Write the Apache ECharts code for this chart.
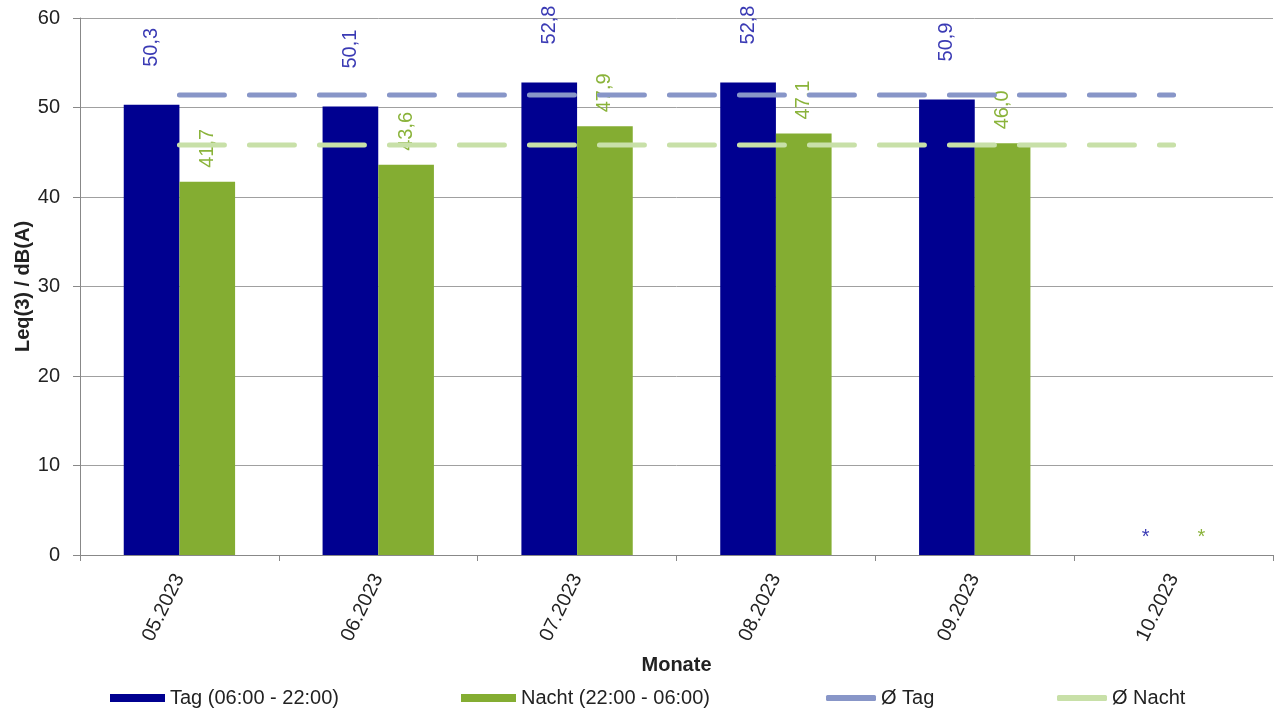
<!DOCTYPE html>
<html><head><meta charset="utf-8">
<script src="https://cdn.jsdelivr.net/npm/echarts@6/dist/echarts.min.js"></script>
<style>html,body{margin:0;padding:0;background:#fff}#c{width:1276px;height:711px}</style>
</head><body><div id="c"></div>
<script>
const categories = ['05.2023','06.2023','07.2023','08.2023','09.2023','10.2023'];
const tagValues = [50.3, 50.1, 52.8, 52.8, 50.9, null];
const nachtValues = [41.7, 43.6, 47.9, 47.1, 46.0, null];
const avgTag = 51.4;
const avgNacht = 45.8;
const names = ['Tag (06:00 - 22:00)', 'Nacht (22:00 - 06:00)', 'Ø Tag', 'Ø Nacht'];

const FONT = 'Liberation Sans, Arial, sans-serif';
const FS = 20;
const fmt = p => p.value === 0 ? '*' : String(p.value.toFixed(1)).replace('.', ',');
function barData(vals, color) {
  return vals.map(v => v === null
    ? {value: 0, label: {formatter: '*', rotate: 0, align: 'center', verticalAlign: 'bottom', distance: 8, color: color}}
    : v);
}
const chart = echarts.init(document.getElementById('c'));
const legendCommon = {top: 688, padding: 0, itemWidth: 55, itemHeight: 8, itemGap: 4,
  textStyle: {fontFamily: FONT, fontSize: FS, color: '#222'}};
chart.setOption({
  animation: false,
  textStyle: {fontFamily: FONT},
  grid: {left: 80, right: 3, top: 18, bottom: 156, containLabel: false, outerBoundsMode: 'none'},
  legend: [
    Object.assign({left: 110, data: [{name: names[0], icon: 'rect'}]}, legendCommon),
    Object.assign({left: 461, data: [{name: names[1], icon: 'rect'}]}, legendCommon),
    Object.assign({}, legendCommon, {left: 826, itemWidth: 50, itemHeight: 6, itemGap: 16, data: [{name: names[2], icon: 'roundRect'}]}),
    Object.assign({}, legendCommon, {left: 1057, itemWidth: 50, itemHeight: 6, itemGap: 16, data: [{name: names[3], icon: 'roundRect'}]})
  ],
  xAxis: {
    type: 'category', data: categories,
    name: 'Monate', nameLocation: 'middle', nameGap: 100, nameMoveOverlap: false,
    nameTextStyle: {fontFamily: FONT, fontSize: FS, fontWeight: 'bold', color: '#222'},
    axisLine: {lineStyle: {color: '#888', width: 1}},
    axisTick: {show: true, length: 6, lineStyle: {color: '#888'}},
    axisLabel: {rotate: 64, fontSize: FS, color: '#222', margin: 20, fontFamily: FONT}
  },
  yAxis: {
    type: 'value', min: 0, max: 60, interval: 10,
    name: 'Leq(3) / dB(A)', nameLocation: 'middle', nameGap: 47, nameRotate: 90, nameMoveOverlap: false,
    nameTextStyle: {fontFamily: FONT, fontSize: FS, fontWeight: 'bold', color: '#222'},
    axisLine: {show: true, lineStyle: {color: '#888', width: 1}},
    axisTick: {show: true, length: 7, lineStyle: {color: '#888'}},
    axisLabel: {fontSize: FS, color: '#222', margin: 20, fontFamily: FONT},
    splitLine: {lineStyle: {color: '#a0a0a0', width: 1}}
  },
  series: [
    {name: names[0], type: 'bar', data: barData(tagValues, '#3a3ab4'), barGap: '0%', barCategoryGap: '44%',
     itemStyle: {color: '#000090'},
     label: {show: true, position: 'top', rotate: 90, align: 'left', verticalAlign: 'middle', distance: 38,
       fontSize: FS, color: '#3a3ab4', fontFamily: FONT, formatter: fmt}},
    {name: names[1], type: 'bar', data: barData(nachtValues, '#8ab33a'),
     itemStyle: {color: '#84ad32'},
     label: {show: true, position: 'top', rotate: 90, align: 'left', verticalAlign: 'middle', distance: 14,
       fontSize: FS, color: '#8ab33a', fontFamily: FONT, formatter: fmt}},
    {name: names[2], type: 'line', data: categories.map(() => avgTag), symbol: 'none', z: 5,
     itemStyle: {color: '#8896c8'},
     lineStyle: {color: '#8896c8', width: 5, type: [45, 25], cap: 'round'}},
    {name: names[3], type: 'line', data: categories.map(() => avgNacht), symbol: 'none', z: 5,
     itemStyle: {color: '#c8e0a8'},
     lineStyle: {color: '#c8e0a8', width: 5, type: [45, 25], cap: 'round'}}
  ]
});
</script></body></html>
